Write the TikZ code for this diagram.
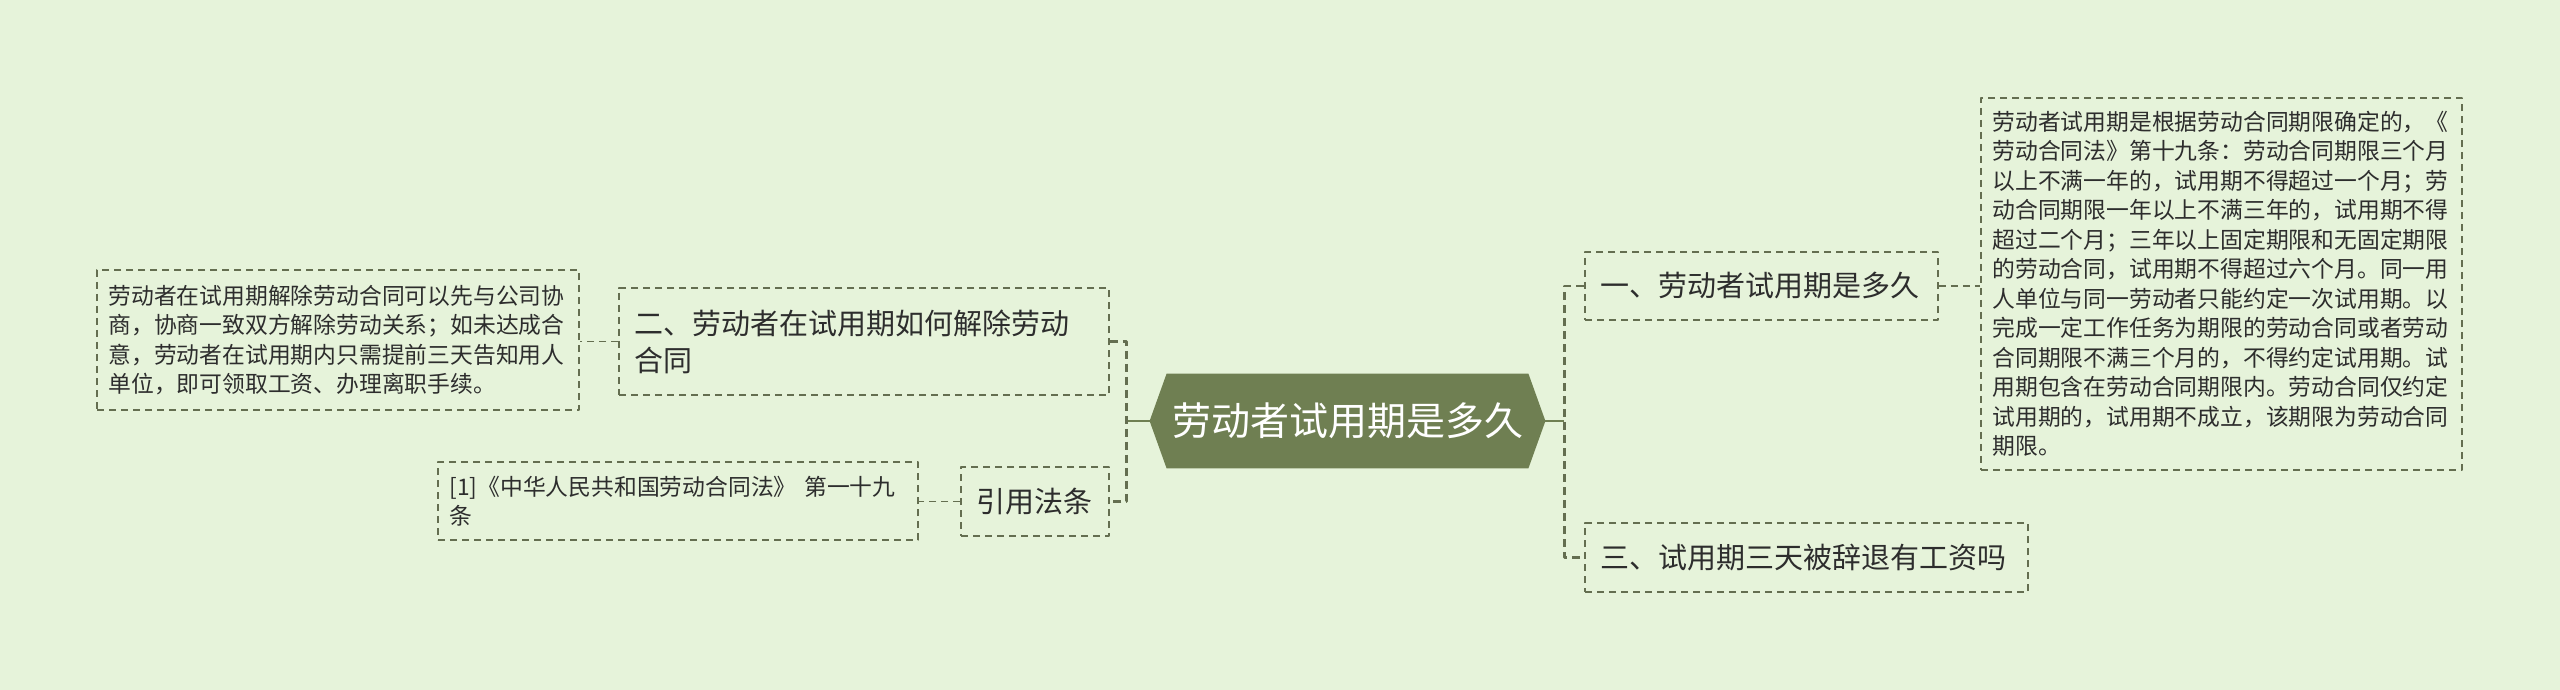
\documentclass[tikz,border=0pt]{standalone}
\usepackage{fontspec}
\setmainfont{Noto Sans CJK SC}
\usetikzlibrary{backgrounds}
\definecolor{bgc}{RGB}{230,243,218}
\definecolor{olive}{RGB}{111,127,82}
\definecolor{dashc}{RGB}{100,110,80}
\definecolor{txt}{RGB}{45,45,45}
\begin{document}
\begin{tikzpicture}[x=0.5pt,y=-0.5pt,line join=round,
	box/.style={draw=dashc,line width=0.85pt,dash pattern=on 3.6pt off 2.4pt,text=txt,align=left,inner ysep=0pt},
	topic/.style={box,inner xsep=7.5pt,font=\fontsize{14.5pt}{18.5pt}\selectfont},
	note/.style={box,inner xsep=5.75pt,font=\fontsize{11.4pt}{14.75pt}\selectfont},
	link/.style={draw=dashc,line width=1.25pt,dash pattern=on 4pt off 2.5pt},
	stem/.style={draw=olive,line width=1.25pt}]
	\useasboundingbox (0,0) rectangle (2560,690);
	\node[text=white,font=\fontsize{19.5pt}{24pt}\selectfont,minimum width=197.5pt,minimum height=47pt,inner sep=0pt] (root) at (1347.5,421) {劳动者试用期是多久};
	\begin{scope}[on background layer]
		\fill[bgc] (0,0) rectangle (2560,690);
		\fill[olive] (root.west)--([xshift=8.5pt]root.north west)--([xshift=-8.5pt]root.north east)--(root.east)--([xshift=-8.5pt]root.south east)--([xshift=8.5pt]root.south west)--cycle;
	\end{scope}
	% right side
	\node[topic,text width=161.5pt,minimum height=34pt] (t1) at (1761.5,286) {一、劳动者试用期是多久};
	\node[topic,text width=206.5pt,minimum height=34.5pt] (t3) at (1806.5,557.5) {三、试用期三天被辞退有工资吗};
	\node[note,text width=229pt,minimum height=186pt] (n1) at (2221.5,284) {劳动者试用期是根据劳动合同期限确定的，《\\劳动合同法》第十九条：劳动合同期限三个月\\以上不满一年的，试用期不得超过一个月；劳\\动合同期限一年以上不满三年的，试用期不得\\超过二个月；三年以上固定期限和无固定期限\\的劳动合同，试用期不得超过六个月。同一用\\人单位与同一劳动者只能约定一次试用期。以\\完成一定工作任务为期限的劳动合同或者劳动\\合同期限不满三个月的，不得约定试用期。试\\用期包含在劳动合同期限内。劳动合同仅约定\\试用期的，试用期不成立，该期限为劳动合同\\期限。};
	% left side
	\node[topic,text width=230pt,minimum height=53.5pt] (t2) at (864,341.5) {二、劳动者在试用期如何解除劳动\\合同};
	\node[topic,text width=59pt,minimum height=34.5pt] (law) at (1035,501.5) {引用法条};
	\node[note,text width=229.5pt,minimum height=70pt] (n2) at (338,340) {劳动者在试用期解除劳动合同可以先与公司协\\商，协商一致双方解除劳动关系；如未达成合\\意，劳动者在试用期内只需提前三天告知用人\\单位，即可领取工资、办理离职手续。};
	\node[note,text width=228.5pt,minimum height=39pt] (n4) at (678,501) {[1]《中华人民共和国劳动合同法》 第一十九\\条};
	% connectors
	\draw[stem] (root.east)--++(19,0) coordinate (rj);
	\draw[link] (t1.west) -| (rj) |- (t3.west);
	\draw[box] (t1.east)--(t1.east -| n1.west);
	\draw[stem] (root.west)--++(-23,0) coordinate (lj);
	\draw[link] (t2.east) -| (lj) |- (law.east);
	\draw[box] (t2.west)--(t2.west -| n2.east);
	\draw[box] (law.west)--(law.west -| n4.east);
\end{tikzpicture}
\end{document}
